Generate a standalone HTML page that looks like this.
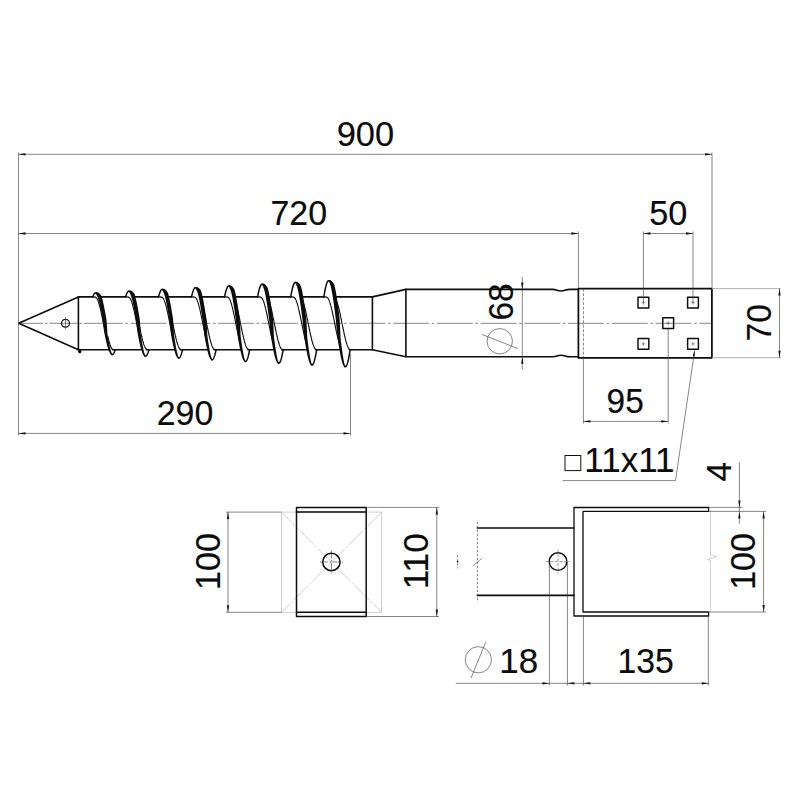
<!DOCTYPE html>
<html lang="en">
<head>
<meta charset="utf-8">
<title>Ground screw technical drawing</title>
<style>
html,body{margin:0;padding:0;background:#fff;}
body{width:800px;height:800px;overflow:hidden;}
svg{display:block;}
svg text{font-family:"Liberation Sans","DejaVu Sans",sans-serif;fill:#0c0c0c;stroke:#0c0c0c;stroke-width:0.16px;}
</style>
</head>
<body>
<svg width="800" height="800" viewBox="0 0 800 800">
<rect x="0" y="0" width="800" height="800" fill="#fff"/>
<path d="M18.75,323.3 H43.1 M45,323.3 H47.5 M49.4,323.3 H77.5 M79.5,323.3 H82 M83.8,323.3 H122.8" stroke="#3c3c3c" stroke-width="0.62" fill="none"/>
<line x1="125.4" y1="323.3" x2="712" y2="323.3" stroke="#3c3c3c" stroke-width="0.62" fill="none" stroke-dasharray="2.6 2.6 35.95 2.6"/>
<path d="M18.7,323.3 L78.4,296.9 M18.7,323.3 L78.4,349.7 M78.4,296.9 L78.4,349.7" stroke="#0d0d0d" stroke-width="1.6" fill="none" stroke-linejoin="round" stroke-linecap="round"/>
<ellipse cx="79.7" cy="351.4" rx="1.7" ry="1.9" fill="#0d0d0d"/>
<circle cx="65.5" cy="323.3" r="3.95" stroke="#111" stroke-width="1.25" fill="none"/>
<line x1="65.5" y1="317.3" x2="65.5" y2="329.3" stroke="#3c3c3c" stroke-width="0.62" fill="none"/>
<path d="M372.4,296.9 L372.4,349.7 M372.4,296.9 L405.9,289.4 M372.4,349.7 L405.9,356.8" stroke="#0d0d0d" stroke-width="1.6" fill="none" stroke-linejoin="round" stroke-linecap="round"/>
<path d="M405.9,289.4 L552.5,289.4 C557,289.4 557,291 561,291 C565,291 565,289.4 570,289.4 L578.4,289.4 M405.9,356.8 L552.5,356.8 C557,356.8 557,355.3 561,355.3 C565,355.3 565,356.8 570,356.8 L578.4,356.8 M405.9,289.4 L405.9,356.8" stroke="#0d0d0d" stroke-width="1.6" fill="none" stroke-linejoin="round" stroke-linecap="round"/>
<rect x="578.4" y="288.6" width="133.5" height="69.2" stroke="#0d0d0d" stroke-width="1.75" fill="none" stroke-linejoin="round" stroke-linecap="round"/>
<line x1="583.4" y1="288.6" x2="583.4" y2="357.8" stroke="#3c3c3c" stroke-width="0.62" fill="none" stroke-dasharray="3 1.5"/>
<rect x="638" y="297.3" width="10.8" height="10.8" stroke="#0d0d0d" stroke-width="1.45" fill="none" stroke-linejoin="round" stroke-linecap="round"/>
<line x1="641.4" y1="302.7" x2="645.4" y2="302.7" stroke="#3c3c3c" stroke-width="0.5" fill="none"/>
<line x1="643.4" y1="300.7" x2="643.4" y2="304.7" stroke="#3c3c3c" stroke-width="0.5" fill="none"/>
<rect x="687.6" y="297.3" width="10.8" height="10.8" stroke="#0d0d0d" stroke-width="1.45" fill="none" stroke-linejoin="round" stroke-linecap="round"/>
<line x1="691" y1="302.7" x2="695" y2="302.7" stroke="#3c3c3c" stroke-width="0.5" fill="none"/>
<line x1="693" y1="300.7" x2="693" y2="304.7" stroke="#3c3c3c" stroke-width="0.5" fill="none"/>
<rect x="662.8" y="317.8" width="10.8" height="10.8" stroke="#0d0d0d" stroke-width="1.45" fill="none" stroke-linejoin="round" stroke-linecap="round"/>
<line x1="666.2" y1="323.2" x2="670.2" y2="323.2" stroke="#3c3c3c" stroke-width="0.5" fill="none"/>
<line x1="668.2" y1="321.2" x2="668.2" y2="325.2" stroke="#3c3c3c" stroke-width="0.5" fill="none"/>
<rect x="638" y="338.5" width="10.8" height="10.8" stroke="#0d0d0d" stroke-width="1.45" fill="none" stroke-linejoin="round" stroke-linecap="round"/>
<line x1="641.4" y1="343.9" x2="645.4" y2="343.9" stroke="#3c3c3c" stroke-width="0.5" fill="none"/>
<line x1="643.4" y1="341.9" x2="643.4" y2="345.9" stroke="#3c3c3c" stroke-width="0.5" fill="none"/>
<rect x="687.6" y="338.5" width="10.8" height="10.8" stroke="#0d0d0d" stroke-width="1.45" fill="none" stroke-linejoin="round" stroke-linecap="round"/>
<line x1="691" y1="343.9" x2="695" y2="343.9" stroke="#3c3c3c" stroke-width="0.5" fill="none"/>
<line x1="693" y1="341.9" x2="693" y2="345.9" stroke="#3c3c3c" stroke-width="0.5" fill="none"/>
<path d="M78.4,296.9 L92.55,296.9 M100.25,296.9 L125.38,296.9 M134.02,296.9 L158.31,296.9 M167.69,296.9 L191.3,296.9 M201.3,296.9 L224.33,296.9 M234.87,296.9 L257.4,296.9 M268.4,296.9 L290.5,296.9 M301.9,296.9 L323.61,296.9 M335.39,296.9 L372.4,296.9 M78.4,349.7 L108.55,349.7 M112.41,349.7 L141.44,349.7 M146.26,349.7 L174.4,349.7 M180.11,349.7 L207.41,349.7 M213.96,349.7 L240.46,349.7 M247.81,349.7 L273.54,349.7 M281.66,349.7 L306.65,349.7 M315.51,349.7 L339.78,349.7 M349.37,349.7 L372.4,349.7 " stroke="#0d0d0d" stroke-width="1.6" fill="none" stroke-linejoin="round" stroke-linecap="round"/>
<path d="M92.75,297.03 L92.97,296.43 L93.18,295.88 L93.4,295.37 L93.61,294.9 L93.83,294.49 L94.04,294.12 L94.26,293.8 L94.47,293.53 L94.69,293.3 L94.9,293.13 L95.12,293 L95.33,292.93 L95.55,292.9 L95.76,292.93" stroke="#0d0d0d" stroke-width="1.5" fill="none" stroke-linejoin="round" stroke-linecap="round"/>
<path d="M111.89,354.52 L112.12,354.57 L112.35,354.56 L112.58,354.49 L112.82,354.36 L113.05,354.17 L113.28,353.92 L113.52,353.61 L113.75,353.24 L113.98,352.81 L114.22,352.32 L114.45,351.78 L114.68,351.19 L114.91,350.54 L115.15,349.83" stroke="#0d0d0d" stroke-width="1.5" fill="none" stroke-linejoin="round" stroke-linecap="round"/>
<path d="M95.47,292.26 L96.07,292.1 L96.74,292.11 L97.41,292.26 L98.06,292.53 L98.7,292.9 L99.32,293.35 L99.92,293.89 L100.49,294.51 L100.98,295.23 L101.39,296.04 L101.68,296.92 L101.98,297.87 L102.27,298.87 L102.56,299.94 L102.84,301.07 L103.13,302.25 L103.41,303.48 L103.69,304.77 L103.97,306.1 L104.25,307.48 L104.53,308.89 L104.81,310.35 L105.09,311.84 L105.37,313.36 L105.65,314.91 L105.93,316.48 L106.21,318.06 L106.48,319.66 L106.62,321.28 L106.74,322.91 L106.86,324.54 L106.99,326.17 L107.1,327.79 L107.19,329.39 L107.28,330.99 L107.38,332.56 L107.52,334.1 L107.76,335.6 L108.01,337.07 L108.25,338.5 L108.5,339.89 L108.75,341.23 L108.99,342.53 L109.24,343.76 L109.48,344.95 L109.72,346.07 L109.96,347.13 L110.18,348.12 L110.4,349.05 L110.62,349.9 L110.84,350.68 L111.05,351.38 L111.27,352 L111.47,352.53 L111.67,352.98 L111.86,353.34 L112.03,353.61 L112.18,353.8 L112.3,353.87 L112.39,353.89 L112.31,355.25 L111.84,355.15 L111.42,354.94 L111.02,354.65 L110.65,354.29 L110.31,353.85 L109.98,353.34 L109.65,352.75 L109.33,352.09 L109.01,351.35 L108.7,350.55 L108.38,349.67 L108.07,348.73 L107.76,347.72 L107.45,346.64 L107.14,345.51 L106.83,344.31 L106.52,343.07 L106.21,341.77 L105.9,340.42 L105.59,339.03 L105.28,337.59 L104.97,336.13 L104.67,334.62 L104.4,333.09 L104.17,331.54 L103.93,329.97 L103.69,328.38 L103.48,326.77 L103.27,325.16 L103.06,323.55 L102.86,321.93 L102.64,320.33 L102.36,318.73 L102.09,317.15 L101.81,315.59 L101.53,314.06 L101.26,312.55 L100.98,311.08 L100.7,309.64 L100.43,308.24 L100.15,306.89 L99.88,305.59 L99.6,304.33 L99.33,303.14 L99.05,302 L98.78,300.93 L98.51,299.92 L98.24,298.98 L97.97,298.12 L97.71,297.33 L97.4,296.63 L97.06,296.01 L96.79,295.44 L96.56,294.95 L96.34,294.54 L96.14,294.22 L95.96,293.97 L95.81,293.8 L95.68,293.66 L95.53,293.55Z" fill="#0d0d0d" stroke="none"/>
<path d="M93.09,296.9 Q95.69,296.9 96.69,298.08 L96.77,298.19 L96.84,298.31 L96.92,298.43 L96.99,298.56 L97.07,298.7 L97.14,298.83 L97.22,298.98 L97.29,299.13 L97.37,299.28 L97.44,299.44 L97.52,299.6 L97.59,299.77 L97.67,299.94 L97.74,300.12 L97.82,300.3 L97.89,300.49 L97.97,300.68 L98.05,300.87 L98.12,301.07 L98.2,301.28 L98.27,301.49 L98.35,301.7 L98.42,301.92 L98.5,302.14 L98.57,302.37 L98.65,302.6 L98.72,302.83 L98.8,303.07 L98.87,303.31 L98.95,303.56 L99.02,303.81 L99.1,304.07 L99.17,304.33 L99.25,304.59 L99.33,304.86 L99.4,305.13 L99.48,305.4 L99.55,305.68 L99.63,305.96 L99.7,306.24 L99.78,306.53 L99.85,306.82 L99.93,307.12 L100,307.41 L100.08,307.72 L100.15,308.02 L100.23,308.33 L100.3,308.64 L100.38,308.95 L100.45,309.27 L100.53,309.59 L100.61,309.91 L100.68,310.23 L100.76,310.56 L100.83,310.89 L100.91,311.22 L100.98,311.56 L101.06,311.89 L101.13,312.23 L101.21,312.58 L101.28,312.92 L101.36,313.27 L101.43,313.61 L101.51,313.96 L101.58,314.32 L101.66,314.67 L101.74,315.02 L101.81,315.38 L101.89,315.74 L101.96,316.1 L102.04,316.46 L102.11,316.82 L102.19,317.19 L102.26,317.55 L102.34,317.92 L102.41,318.29 L102.49,318.66 L102.56,319.03 L102.64,319.4 L102.71,319.77 L102.79,320.14 L102.86,320.51 L102.94,320.89 L103.02,321.26 L103.09,321.63 L103.17,322.01 L103.24,322.38 L103.32,322.76 L103.39,323.13 L103.47,323.51 L103.54,323.88 L103.62,324.26 L103.69,324.63 L103.77,325.01 L103.84,325.38 L103.92,325.76 L103.99,326.13 L104.07,326.5 L104.14,326.87 L104.22,327.25 L104.3,327.62 L104.37,327.99 L104.45,328.35 L104.52,328.72 L104.6,329.09 L104.67,329.45 L104.75,329.82 L104.82,330.18 L104.9,330.54 L104.97,330.9 L105.05,331.26 L105.12,331.62 L105.2,331.97 L105.27,332.33 L105.35,332.68 L105.42,333.03 L105.5,333.37 L105.58,333.72 L105.65,334.06 L105.73,334.41 L105.8,334.74 L105.88,335.08 L105.95,335.42 L106.03,335.75 L106.1,336.08 L106.18,336.4 L106.25,336.73 L106.33,337.05 L106.4,337.37 L106.48,337.68 L106.55,338 L106.63,338.31 L106.7,338.61 L106.78,338.92 L106.86,339.22 L106.93,339.52" stroke="#0d0d0d" stroke-width="1.15" fill="none" stroke-linejoin="round" stroke-linecap="round"/>
<path d="M107.9,336.69 L107.98,337.01 L108.06,337.33 L108.13,337.65 L108.21,337.96 L108.28,338.27 L108.36,338.58 L108.43,338.88 L108.51,339.19 L108.58,339.48 L108.66,339.78 L108.73,340.07 L108.81,340.36 L108.88,340.64 L108.96,340.92 L109.03,341.2 L109.11,341.47 L109.18,341.74 L109.26,342.01 L109.34,342.27 L109.41,342.53 L109.49,342.79 L109.56,343.04 L109.64,343.29 L109.71,343.53 L109.79,343.77 L109.86,344 L109.94,344.23 L110.01,344.46 L110.09,344.68 L110.16,344.9 L110.24,345.11 L110.31,345.32 L110.39,345.53 L110.46,345.73 L110.54,345.92 L110.62,346.11 L110.69,346.3 L110.77,346.48 L110.84,346.66 L110.92,346.83 L110.99,347 L111.07,347.16 L111.14,347.32 L111.22,347.47 L111.29,347.62 L111.37,347.77 L111.44,347.9 L111.52,348.04 L111.59,348.17 L111.67,348.29 L111.75,348.41 L111.82,348.52 Q112.82,349.7 115.42,349.7" stroke="#0d0d0d" stroke-width="1.15" fill="none" stroke-linejoin="round" stroke-linecap="round"/>
<path d="M125.58,297.04 L125.83,296.2 L126.08,295.42 L126.33,294.7 L126.58,294.05 L126.83,293.46 L127.08,292.93 L127.32,292.47 L127.57,292.08 L127.82,291.75 L128.07,291.5 L128.32,291.31 L128.57,291.2 L128.82,291.16 L129.06,291.18" stroke="#0d0d0d" stroke-width="1.5" fill="none" stroke-linejoin="round" stroke-linecap="round"/>
<path d="M145.19,356.26 L145.45,356.32 L145.71,356.29 L145.97,356.18 L146.24,356 L146.5,355.73 L146.76,355.38 L147.02,354.95 L147.29,354.44 L147.55,353.86 L147.81,353.2 L148.08,352.47 L148.34,351.66 L148.6,350.79 L148.86,349.84" stroke="#0d0d0d" stroke-width="1.5" fill="none" stroke-linejoin="round" stroke-linecap="round"/>
<path d="M128.77,290.51 L129.38,290.36 L130.06,290.38 L130.74,290.56 L131.39,290.86 L132.02,291.25 L132.64,291.73 L133.24,292.3 L133.81,292.96 L134.3,293.72 L134.7,294.56 L135,295.49 L135.29,296.49 L135.58,297.55 L135.86,298.67 L136.15,299.86 L136.43,301.11 L136.71,302.41 L137,303.76 L137.28,305.17 L137.56,306.63 L137.84,308.12 L138.12,309.66 L138.4,311.24 L138.67,312.84 L138.95,314.48 L139.23,316.13 L139.51,317.81 L139.79,319.5 L139.92,321.21 L140.05,322.93 L140.17,324.65 L140.29,326.37 L140.41,328.08 L140.5,329.78 L140.59,331.46 L140.68,333.12 L140.82,334.74 L141.06,336.33 L141.31,337.88 L141.56,339.39 L141.8,340.86 L142.05,342.28 L142.29,343.64 L142.54,344.95 L142.78,346.2 L143.03,347.38 L143.26,348.5 L143.49,349.55 L143.71,350.53 L143.93,351.43 L144.14,352.26 L144.36,352.99 L144.57,353.65 L144.78,354.21 L144.98,354.69 L145.17,355.07 L145.35,355.35 L145.49,355.55 L145.61,355.62 L145.69,355.64 L145.61,357 L145.13,356.89 L144.7,356.67 L144.31,356.37 L143.94,355.98 L143.6,355.52 L143.27,354.98 L142.94,354.37 L142.62,353.67 L142.31,352.9 L141.99,352.05 L141.68,351.12 L141.37,350.13 L141.06,349.06 L140.74,347.93 L140.43,346.73 L140.12,345.47 L139.82,344.15 L139.51,342.78 L139.2,341.36 L138.89,339.89 L138.58,338.38 L138.27,336.82 L137.96,335.24 L137.7,333.62 L137.46,331.98 L137.23,330.32 L136.99,328.64 L136.78,326.94 L136.57,325.24 L136.36,323.53 L136.15,321.83 L135.94,320.13 L135.66,318.45 L135.38,316.78 L135.11,315.13 L134.83,313.5 L134.55,311.91 L134.28,310.35 L134,308.83 L133.73,307.35 L133.45,305.92 L133.17,304.54 L132.9,303.22 L132.62,301.95 L132.35,300.75 L132.08,299.61 L131.81,298.54 L131.53,297.55 L131.27,296.63 L131,295.8 L130.69,295.04 L130.35,294.38 L130.08,293.78 L129.85,293.26 L129.63,292.83 L129.42,292.48 L129.24,292.23 L129.09,292.05 L128.97,291.92 L128.83,291.81Z" fill="#0d0d0d" stroke="none"/>
<path d="M126.39,296.9 Q128.99,296.9 129.99,298.08 L130.07,298.19 L130.14,298.31 L130.22,298.43 L130.29,298.56 L130.37,298.7 L130.44,298.83 L130.52,298.98 L130.59,299.13 L130.67,299.28 L130.74,299.44 L130.82,299.6 L130.89,299.77 L130.97,299.94 L131.04,300.12 L131.12,300.3 L131.19,300.49 L131.27,300.68 L131.35,300.87 L131.42,301.07 L131.5,301.28 L131.57,301.49 L131.65,301.7 L131.72,301.92 L131.8,302.14 L131.87,302.37 L131.95,302.6 L132.02,302.83 L132.1,303.07 L132.17,303.31 L132.25,303.56 L132.32,303.81 L132.4,304.07 L132.47,304.33 L132.55,304.59 L132.63,304.86 L132.7,305.13 L132.78,305.4 L132.85,305.68 L132.93,305.96 L133,306.24 L133.08,306.53 L133.15,306.82 L133.23,307.12 L133.3,307.41 L133.38,307.72 L133.45,308.02 L133.53,308.33 L133.6,308.64 L133.68,308.95 L133.75,309.27 L133.83,309.59 L133.91,309.91 L133.98,310.23 L134.06,310.56 L134.13,310.89 L134.21,311.22 L134.28,311.56 L134.36,311.89 L134.43,312.23 L134.51,312.58 L134.58,312.92 L134.66,313.27 L134.73,313.61 L134.81,313.96 L134.88,314.32 L134.96,314.67 L135.04,315.02 L135.11,315.38 L135.19,315.74 L135.26,316.1 L135.34,316.46 L135.41,316.82 L135.49,317.19 L135.56,317.55 L135.64,317.92 L135.71,318.29 L135.79,318.66 L135.86,319.03 L135.94,319.4 L136.01,319.77 L136.09,320.14 L136.16,320.51 L136.24,320.89 L136.32,321.26 L136.39,321.63 L136.47,322.01 L136.54,322.38 L136.62,322.76 L136.69,323.13 L136.77,323.51 L136.84,323.88 L136.92,324.26 L136.99,324.63 L137.07,325.01 L137.14,325.38 L137.22,325.76 L137.29,326.13 L137.37,326.5 L137.44,326.87 L137.52,327.25 L137.6,327.62 L137.67,327.99 L137.75,328.35 L137.82,328.72 L137.9,329.09 L137.97,329.45 L138.05,329.82 L138.12,330.18 L138.2,330.54 L138.27,330.9 L138.35,331.26 L138.42,331.62 L138.5,331.97 L138.57,332.33 L138.65,332.68 L138.72,333.03 L138.8,333.37 L138.88,333.72 L138.95,334.06 L139.03,334.41 L139.1,334.74 L139.18,335.08 L139.25,335.42 L139.33,335.75 L139.4,336.08 L139.48,336.4 L139.55,336.73" stroke="#0d0d0d" stroke-width="1.15" fill="none" stroke-linejoin="round" stroke-linecap="round"/>
<path d="M138.37,320.47 L138.44,320.84 L138.52,321.22 L138.59,321.59 L138.67,321.97 L138.74,322.34 L138.82,322.72 L138.89,323.09 L138.97,323.47 L139.04,323.84 L139.12,324.22 L139.2,324.59 L139.27,324.97 L139.35,325.34 L139.42,325.71 L139.5,326.09 L139.57,326.46 L139.65,326.83 L139.72,327.2 L139.8,327.57 L139.87,327.94 L139.95,328.31 L140.02,328.68 L140.1,329.05 L140.17,329.41 L140.25,329.78 L140.32,330.14 L140.4,330.5 L140.48,330.86 L140.55,331.22 L140.63,331.58 L140.7,331.93 L140.78,332.28 L140.85,332.64 L140.93,332.99 L141,333.33 L141.08,333.68 L141.15,334.02 L141.23,334.37 L141.3,334.71 L141.38,335.04 L141.45,335.38 L141.53,335.71 L141.6,336.04 L141.68,336.37 L141.76,336.69 L141.83,337.01 L141.91,337.33 L141.98,337.65 L142.06,337.96 L142.13,338.27 L142.21,338.58 L142.28,338.88 L142.36,339.19 L142.43,339.48 L142.51,339.78 L142.58,340.07 L142.66,340.36 L142.73,340.64 L142.81,340.92 L142.88,341.2 L142.96,341.47 L143.04,341.74 L143.11,342.01 L143.19,342.27 L143.26,342.53 L143.34,342.79 L143.41,343.04 L143.49,343.29 L143.56,343.53 L143.64,343.77 L143.71,344 L143.79,344.23 L143.86,344.46 L143.94,344.68 L144.01,344.9 L144.09,345.11 L144.17,345.32 L144.24,345.53 L144.32,345.73 L144.39,345.92 L144.47,346.11 L144.54,346.3 L144.62,346.48 L144.69,346.66 L144.77,346.83 L144.84,347 L144.92,347.16 L144.99,347.32 L145.07,347.47 L145.14,347.62 L145.22,347.77 L145.29,347.9 L145.37,348.04 L145.45,348.17 L145.52,348.29 L145.6,348.41 L145.67,348.52 Q146.67,349.7 149.27,349.7" stroke="#0d0d0d" stroke-width="1.15" fill="none" stroke-linejoin="round" stroke-linecap="round"/>
<path d="M158.51,297.05 L158.78,295.97 L159.06,294.97 L159.33,294.05 L159.61,293.2 L159.89,292.43 L160.16,291.75 L160.44,291.15 L160.71,290.63 L160.99,290.21 L161.26,289.87 L161.54,289.63 L161.81,289.47 L162.09,289.41 L162.36,289.44" stroke="#0d0d0d" stroke-width="1.5" fill="none" stroke-linejoin="round" stroke-linecap="round"/>
<path d="M178.49,358.01 L178.77,358.07 L179.06,358.02 L179.35,357.88 L179.63,357.63 L179.92,357.28 L180.21,356.83 L180.49,356.28 L180.78,355.64 L181.07,354.9 L181.36,354.07 L181.64,353.14 L181.93,352.13 L182.22,351.03 L182.5,349.85" stroke="#0d0d0d" stroke-width="1.5" fill="none" stroke-linejoin="round" stroke-linecap="round"/>
<path d="M162.07,288.76 L162.69,288.61 L163.38,288.66 L164.06,288.86 L164.72,289.18 L165.35,289.6 L165.96,290.11 L166.56,290.71 L167.12,291.4 L167.61,292.2 L168.01,293.09 L168.31,294.06 L168.6,295.11 L168.88,296.22 L169.17,297.4 L169.45,298.65 L169.74,299.96 L170.02,301.33 L170.3,302.76 L170.58,304.24 L170.86,305.77 L171.14,307.35 L171.42,308.97 L171.7,310.63 L171.98,312.32 L172.26,314.05 L172.53,315.79 L172.81,317.56 L173.09,319.34 L173.23,321.14 L173.35,322.95 L173.47,324.76 L173.59,326.57 L173.71,328.37 L173.8,330.15 L173.89,331.92 L173.98,333.67 L174.12,335.38 L174.37,337.05 L174.61,338.69 L174.86,340.28 L175.11,341.82 L175.35,343.32 L175.6,344.75 L175.84,346.13 L176.09,347.45 L176.33,348.7 L176.57,349.88 L176.79,350.98 L177.01,352.01 L177.23,352.96 L177.45,353.83 L177.67,354.61 L177.88,355.3 L178.09,355.89 L178.29,356.39 L178.48,356.79 L178.66,357.09 L178.8,357.29 L178.92,357.37 L178.99,357.39 L178.91,358.74 L178.42,358.64 L177.99,358.4 L177.59,358.08 L177.23,357.68 L176.89,357.2 L176.56,356.63 L176.24,355.98 L175.92,355.25 L175.6,354.44 L175.29,353.55 L174.97,352.58 L174.66,351.53 L174.35,350.41 L174.04,349.22 L173.73,347.96 L173.42,346.63 L173.11,345.24 L172.8,343.8 L172.5,342.3 L172.19,340.75 L171.88,339.16 L171.57,337.52 L171.26,335.85 L171,334.15 L170.76,332.42 L170.52,330.67 L170.29,328.9 L170.07,327.11 L169.87,325.32 L169.66,323.52 L169.45,321.73 L169.24,319.94 L168.96,318.16 L168.68,316.4 L168.41,314.66 L168.13,312.95 L167.85,311.27 L167.58,309.63 L167.3,308.02 L167.02,306.47 L166.75,304.96 L166.47,303.5 L166.2,302.1 L165.92,300.77 L165.65,299.49 L165.37,298.29 L165.1,297.17 L164.83,296.11 L164.56,295.15 L164.29,294.26 L163.98,293.46 L163.64,292.76 L163.37,292.13 L163.13,291.57 L162.91,291.11 L162.7,290.75 L162.52,290.48 L162.37,290.3 L162.26,290.17 L162.13,290.06Z" fill="#0d0d0d" stroke="none"/>
<path d="M159.51,296.9 Q162.11,296.9 163.11,298.08 L163.19,298.19 L163.27,298.31 L163.34,298.43 L163.42,298.56 L163.49,298.7 L163.57,298.83 L163.64,298.98 L163.72,299.13 L163.79,299.28 L163.87,299.44 L163.94,299.6 L164.02,299.77 L164.09,299.94 L164.17,300.12 L164.24,300.3 L164.32,300.49 L164.39,300.68 L164.47,300.87 L164.55,301.07 L164.62,301.28 L164.7,301.49 L164.77,301.7 L164.85,301.92 L164.92,302.14 L165,302.37 L165.07,302.6 L165.15,302.83 L165.22,303.07 L165.3,303.31 L165.37,303.56 L165.45,303.81 L165.52,304.07 L165.6,304.33 L165.67,304.59 L165.75,304.86 L165.83,305.13 L165.9,305.4 L165.98,305.68 L166.05,305.96 L166.13,306.24 L166.2,306.53 L166.28,306.82 L166.35,307.12 L166.43,307.41 L166.5,307.72 L166.58,308.02 L166.65,308.33 L166.73,308.64 L166.8,308.95 L166.88,309.27 L166.95,309.59 L167.03,309.91 L167.11,310.23 L167.18,310.56 L167.26,310.89 L167.33,311.22 L167.41,311.56 L167.48,311.89 L167.56,312.23 L167.63,312.58 L167.71,312.92 L167.78,313.27 L167.86,313.61 L167.93,313.96 L168.01,314.32 L168.08,314.67 L168.16,315.02 L168.24,315.38 L168.31,315.74 L168.39,316.1 L168.46,316.46 L168.54,316.82 L168.61,317.19 L168.69,317.55 L168.76,317.92 L168.84,318.29 L168.91,318.66 L168.99,319.03 L169.06,319.4 L169.14,319.77 L169.21,320.14 L169.29,320.51 L169.36,320.89 L169.44,321.26 L169.52,321.63 L169.59,322.01 L169.67,322.38 L169.74,322.76 L169.82,323.13 L169.89,323.51 L169.97,323.88 L170.04,324.26 L170.12,324.63 L170.19,325.01 L170.27,325.38 L170.34,325.76 L170.42,326.13 L170.49,326.5 L170.57,326.87 L170.64,327.25 L170.72,327.62 L170.8,327.99 L170.87,328.35 L170.95,328.72 L171.02,329.09 L171.1,329.45 L171.17,329.82 L171.25,330.18 L171.32,330.54 L171.4,330.9 L171.47,331.26 L171.55,331.62 L171.62,331.97 L171.7,332.33 L171.77,332.68 L171.85,333.03 L171.92,333.37 L172,333.72 L172.08,334.06 L172.15,334.41 L172.23,334.74 L172.3,335.08 L172.38,335.42 L172.45,335.75 L172.53,336.08 L172.6,336.4 L172.68,336.73 L172.75,337.05 L172.83,337.37 L172.9,337.68" stroke="#0d0d0d" stroke-width="1.15" fill="none" stroke-linejoin="round" stroke-linecap="round"/>
<path d="M170.11,310.52 L170.18,310.85 L170.26,311.18 L170.34,311.52 L170.41,311.86 L170.49,312.19 L170.56,312.54 L170.64,312.88 L170.71,313.23 L170.79,313.57 L170.86,313.92 L170.94,314.27 L171.01,314.63 L171.09,314.98 L171.16,315.34 L171.24,315.7 L171.31,316.06 L171.39,316.42 L171.46,316.78 L171.54,317.15 L171.62,317.51 L171.69,317.88 L171.77,318.25 L171.84,318.61 L171.92,318.98 L171.99,319.35 L172.07,319.73 L172.14,320.1 L172.22,320.47 L172.29,320.84 L172.37,321.22 L172.44,321.59 L172.52,321.97 L172.59,322.34 L172.67,322.72 L172.74,323.09 L172.82,323.47 L172.9,323.84 L172.97,324.22 L173.05,324.59 L173.12,324.97 L173.2,325.34 L173.27,325.71 L173.35,326.09 L173.42,326.46 L173.5,326.83 L173.57,327.2 L173.65,327.57 L173.72,327.94 L173.8,328.31 L173.87,328.68 L173.95,329.05 L174.02,329.41 L174.1,329.78 L174.18,330.14 L174.25,330.5 L174.33,330.86 L174.4,331.22 L174.48,331.58 L174.55,331.93 L174.63,332.28 L174.7,332.64 L174.78,332.99 L174.85,333.33 L174.93,333.68 L175,334.02 L175.08,334.37 L175.15,334.71 L175.23,335.04 L175.3,335.38 L175.38,335.71 L175.46,336.04 L175.53,336.37 L175.61,336.69 L175.68,337.01 L175.76,337.33 L175.83,337.65 L175.91,337.96 L175.98,338.27 L176.06,338.58 L176.13,338.88 L176.21,339.19 L176.28,339.48 L176.36,339.78 L176.43,340.07 L176.51,340.36 L176.59,340.64 L176.66,340.92 L176.74,341.2 L176.81,341.47 L176.89,341.74 L176.96,342.01 L177.04,342.27 L177.11,342.53 L177.19,342.79 L177.26,343.04 L177.34,343.29 L177.41,343.53 L177.49,343.77 L177.56,344 L177.64,344.23 L177.71,344.46 L177.79,344.68 L177.87,344.9 L177.94,345.11 L178.02,345.32 L178.09,345.53 L178.17,345.73 L178.24,345.92 L178.32,346.11 L178.39,346.3 L178.47,346.48 L178.54,346.66 L178.62,346.83 L178.69,347 L178.77,347.16 L178.84,347.32 L178.92,347.47 L178.99,347.62 L179.07,347.77 L179.15,347.9 L179.22,348.04 L179.3,348.17 L179.37,348.29 L179.45,348.41 L179.52,348.52 Q180.52,349.7 183.12,349.7" stroke="#0d0d0d" stroke-width="1.15" fill="none" stroke-linejoin="round" stroke-linecap="round"/>
<path d="M191.5,297.05 L191.79,295.74 L192.09,294.52 L192.39,293.39 L192.69,292.35 L192.98,291.41 L193.28,290.57 L193.58,289.83 L193.88,289.2 L194.18,288.67 L194.47,288.25 L194.77,287.94 L195.07,287.75 L195.37,287.66 L195.66,287.69" stroke="#0d0d0d" stroke-width="1.5" fill="none" stroke-linejoin="round" stroke-linecap="round"/>
<path d="M211.79,359.75 L212.09,359.81 L212.4,359.75 L212.71,359.57 L213.02,359.26 L213.32,358.83 L213.63,358.28 L213.94,357.61 L214.25,356.83 L214.55,355.93 L214.86,354.92 L215.17,353.81 L215.48,352.59 L215.78,351.27 L216.09,349.85" stroke="#0d0d0d" stroke-width="1.5" fill="none" stroke-linejoin="round" stroke-linecap="round"/>
<path d="M195.37,287.01 L196.01,286.87 L196.71,286.93 L197.39,287.15 L198.04,287.5 L198.67,287.94 L199.28,288.48 L199.88,289.11 L200.44,289.84 L200.92,290.68 L201.32,291.6 L201.61,292.63 L201.9,293.72 L202.19,294.89 L202.48,296.13 L202.76,297.44 L203.04,298.82 L203.32,300.26 L203.6,301.76 L203.89,303.31 L204.16,304.92 L204.44,306.58 L204.72,308.28 L205,310.02 L205.28,311.8 L205.56,313.61 L205.84,315.45 L206.12,317.3 L206.39,319.17 L206.53,321.07 L206.65,322.97 L206.77,324.87 L206.89,326.77 L207.01,328.65 L207.1,330.53 L207.19,332.39 L207.28,334.22 L207.42,336.02 L207.67,337.78 L207.92,339.49 L208.16,341.17 L208.41,342.79 L208.65,344.36 L208.9,345.87 L209.14,347.32 L209.39,348.7 L209.63,350.01 L209.87,351.25 L210.09,352.41 L210.31,353.49 L210.54,354.49 L210.75,355.4 L210.97,356.22 L211.19,356.94 L211.4,357.57 L211.6,358.1 L211.79,358.52 L211.97,358.83 L212.11,359.04 L212.23,359.12 L212.29,359.13 L212.21,360.49 L211.71,360.38 L211.28,360.13 L210.88,359.79 L210.52,359.37 L210.18,358.87 L209.85,358.28 L209.53,357.6 L209.21,356.84 L208.9,355.99 L208.58,355.05 L208.27,354.03 L207.96,352.93 L207.65,351.76 L207.34,350.51 L207.03,349.18 L206.72,347.79 L206.41,346.33 L206.1,344.82 L205.79,343.24 L205.48,341.62 L205.18,339.94 L204.87,338.23 L204.56,336.47 L204.3,334.68 L204.06,332.86 L203.82,331.02 L203.58,329.16 L203.37,327.29 L203.16,325.4 L202.96,323.51 L202.75,321.62 L202.54,319.74 L202.26,317.88 L201.98,316.03 L201.7,314.2 L201.43,312.4 L201.15,310.63 L200.87,308.91 L200.6,307.22 L200.32,305.58 L200.04,303.99 L199.77,302.46 L199.49,300.99 L199.22,299.58 L198.94,298.24 L198.67,296.98 L198.4,295.79 L198.12,294.68 L197.85,293.66 L197.59,292.73 L197.28,291.88 L196.93,291.14 L196.65,290.47 L196.42,289.89 L196.2,289.4 L195.99,289.02 L195.8,288.74 L195.65,288.55 L195.54,288.42 L195.43,288.31Z" fill="#0d0d0d" stroke="none"/>
<path d="M192.48,296.9 Q195.08,296.9 196.08,298.08 L196.16,298.19 L196.23,298.31 L196.31,298.43 L196.38,298.56 L196.46,298.7 L196.53,298.83 L196.61,298.98 L196.68,299.13 L196.76,299.28 L196.84,299.44 L196.91,299.6 L196.99,299.77 L197.06,299.94 L197.14,300.12 L197.21,300.3 L197.29,300.49 L197.36,300.68 L197.44,300.87 L197.51,301.07 L197.59,301.28 L197.66,301.49 L197.74,301.7 L197.81,301.92 L197.89,302.14 L197.96,302.37 L198.04,302.6 L198.12,302.83 L198.19,303.07 L198.27,303.31 L198.34,303.56 L198.42,303.81 L198.49,304.07 L198.57,304.33 L198.64,304.59 L198.72,304.86 L198.79,305.13 L198.87,305.4 L198.94,305.68 L199.02,305.96 L199.09,306.24 L199.17,306.53 L199.25,306.82 L199.32,307.12 L199.4,307.41 L199.47,307.72 L199.55,308.02 L199.62,308.33 L199.7,308.64 L199.77,308.95 L199.85,309.27 L199.92,309.59 L200,309.91 L200.07,310.23 L200.15,310.56 L200.22,310.89 L200.3,311.22 L200.37,311.56 L200.45,311.89 L200.53,312.23 L200.6,312.58 L200.68,312.92 L200.75,313.27 L200.83,313.61 L200.9,313.96 L200.98,314.32 L201.05,314.67 L201.13,315.02 L201.2,315.38 L201.28,315.74 L201.35,316.1 L201.43,316.46 L201.5,316.82 L201.58,317.19 L201.65,317.55 L201.73,317.92 L201.81,318.29 L201.88,318.66 L201.96,319.03 L202.03,319.4 L202.11,319.77 L202.18,320.14 L202.26,320.51 L202.33,320.89 L202.41,321.26 L202.48,321.63 L202.56,322.01 L202.63,322.38 L202.71,322.76 L202.78,323.13 L202.86,323.51 L202.93,323.88 L203.01,324.26 L203.09,324.63 L203.16,325.01 L203.24,325.38 L203.31,325.76 L203.39,326.13 L203.46,326.5 L203.54,326.87 L203.61,327.25 L203.69,327.62 L203.76,327.99 L203.84,328.35 L203.91,328.72 L203.99,329.09 L204.06,329.45 L204.14,329.82 L204.21,330.18 L204.29,330.54 L204.37,330.9 L204.44,331.26 L204.52,331.62 L204.59,331.97 L204.67,332.33 L204.74,332.68 L204.82,333.03 L204.89,333.37 L204.97,333.72 L205.04,334.06 L205.12,334.41 L205.19,334.74 L205.27,335.08 L205.34,335.42 L205.42,335.75 L205.49,336.08 L205.57,336.4 L205.65,336.73 L205.72,337.05 L205.8,337.37 L205.87,337.68 L205.95,338 L206.02,338.31 L206.1,338.61 L206.17,338.92 L206.25,339.22 L206.32,339.52 L206.4,339.81 L206.47,340.1" stroke="#0d0d0d" stroke-width="1.15" fill="none" stroke-linejoin="round" stroke-linecap="round"/>
<path d="M202.68,305.37 L202.76,305.64 L202.83,305.93 L202.91,306.21 L202.98,306.5 L203.06,306.79 L203.13,307.08 L203.21,307.38 L203.28,307.68 L203.36,307.99 L203.43,308.29 L203.51,308.6 L203.58,308.92 L203.66,309.23 L203.73,309.55 L203.81,309.87 L203.88,310.2 L203.96,310.52 L204.04,310.85 L204.11,311.18 L204.19,311.52 L204.26,311.86 L204.34,312.19 L204.41,312.54 L204.49,312.88 L204.56,313.23 L204.64,313.57 L204.71,313.92 L204.79,314.27 L204.86,314.63 L204.94,314.98 L205.01,315.34 L205.09,315.7 L205.16,316.06 L205.24,316.42 L205.32,316.78 L205.39,317.15 L205.47,317.51 L205.54,317.88 L205.62,318.25 L205.69,318.61 L205.77,318.98 L205.84,319.35 L205.92,319.73 L205.99,320.1 L206.07,320.47 L206.14,320.84 L206.22,321.22 L206.29,321.59 L206.37,321.97 L206.44,322.34 L206.52,322.72 L206.6,323.09 L206.67,323.47 L206.75,323.84 L206.82,324.22 L206.9,324.59 L206.97,324.97 L207.05,325.34 L207.12,325.71 L207.2,326.09 L207.27,326.46 L207.35,326.83 L207.42,327.2 L207.5,327.57 L207.57,327.94 L207.65,328.31 L207.72,328.68 L207.8,329.05 L207.88,329.41 L207.95,329.78 L208.03,330.14 L208.1,330.5 L208.18,330.86 L208.25,331.22 L208.33,331.58 L208.4,331.93 L208.48,332.28 L208.55,332.64 L208.63,332.99 L208.7,333.33 L208.78,333.68 L208.85,334.02 L208.93,334.37 L209.01,334.71 L209.08,335.04 L209.16,335.38 L209.23,335.71 L209.31,336.04 L209.38,336.37 L209.46,336.69 L209.53,337.01 L209.61,337.33 L209.68,337.65 L209.76,337.96 L209.83,338.27 L209.91,338.58 L209.98,338.88 L210.06,339.19 L210.13,339.48 L210.21,339.78 L210.29,340.07 L210.36,340.36 L210.44,340.64 L210.51,340.92 L210.59,341.2 L210.66,341.47 L210.74,341.74 L210.81,342.01 L210.89,342.27 L210.96,342.53 L211.04,342.79 L211.11,343.04 L211.19,343.29 L211.26,343.53 L211.34,343.77 L211.41,344 L211.49,344.23 L211.57,344.46 L211.64,344.68 L211.72,344.9 L211.79,345.11 L211.87,345.32 L211.94,345.53 L212.02,345.73 L212.09,345.92 L212.17,346.11 L212.24,346.3 L212.32,346.48 L212.39,346.66 L212.47,346.83 L212.54,347 L212.62,347.16 L212.69,347.32 L212.77,347.47 L212.85,347.62 L212.92,347.77 L213,347.9 L213.07,348.04 L213.15,348.17 L213.22,348.29 L213.3,348.41 L213.37,348.52 Q214.37,349.7 216.97,349.7" stroke="#0d0d0d" stroke-width="1.15" fill="none" stroke-linejoin="round" stroke-linecap="round"/>
<path d="M224.53,297.05 L224.85,295.52 L225.16,294.08 L225.48,292.74 L225.8,291.51 L226.11,290.4 L226.43,289.4 L226.75,288.52 L227.06,287.76 L227.38,287.13 L227.7,286.63 L228.01,286.26 L228.33,286.02 L228.65,285.92 L228.96,285.95" stroke="#0d0d0d" stroke-width="1.5" fill="none" stroke-linejoin="round" stroke-linecap="round"/>
<path d="M245.09,361.5 L245.41,361.56 L245.74,361.48 L246.06,361.26 L246.39,360.89 L246.71,360.38 L247.04,359.72 L247.36,358.94 L247.69,358.01 L248.01,356.96 L248.34,355.77 L248.66,354.47 L248.99,353.04 L249.31,351.5 L249.64,349.86" stroke="#0d0d0d" stroke-width="1.5" fill="none" stroke-linejoin="round" stroke-linecap="round"/>
<path d="M228.67,285.26 L229.32,285.13 L230.03,285.21 L230.71,285.45 L231.36,285.81 L231.99,286.28 L232.59,286.85 L233.19,287.51 L233.75,288.28 L234.23,289.15 L234.63,290.12 L234.92,291.19 L235.21,292.33 L235.5,293.56 L235.78,294.85 L236.06,296.23 L236.35,297.67 L236.63,299.18 L236.91,300.75 L237.19,302.38 L237.47,304.07 L237.75,305.8 L238.03,307.59 L238.31,309.42 L238.58,311.28 L238.86,313.18 L239.14,315.1 L239.42,317.04 L239.7,319.01 L239.83,320.99 L239.95,322.98 L240.07,324.98 L240.2,326.96 L240.31,328.94 L240.4,330.91 L240.49,332.85 L240.58,334.77 L240.72,336.66 L240.97,338.5 L241.22,340.3 L241.46,342.05 L241.71,343.75 L241.96,345.4 L242.2,346.98 L242.45,348.5 L242.69,349.95 L242.94,351.32 L243.17,352.62 L243.4,353.84 L243.62,354.97 L243.84,356.02 L244.06,356.97 L244.28,357.83 L244.49,358.59 L244.7,359.25 L244.91,359.8 L245.1,360.24 L245.28,360.57 L245.42,360.79 L245.54,360.87 L245.59,360.88 L245.51,362.24 L245,362.12 L244.57,361.85 L244.17,361.51 L243.81,361.07 L243.48,360.55 L243.15,359.93 L242.83,359.22 L242.51,358.42 L242.19,357.53 L241.88,356.56 L241.57,355.49 L241.26,354.34 L240.95,353.11 L240.64,351.79 L240.33,350.41 L240.02,348.95 L239.71,347.42 L239.4,345.83 L239.09,344.18 L238.78,342.48 L238.47,340.73 L238.17,338.93 L237.86,337.09 L237.6,335.21 L237.36,333.31 L237.12,331.38 L236.88,329.43 L236.67,327.46 L236.46,325.48 L236.26,323.5 L236.05,321.52 L235.83,319.55 L235.56,317.59 L235.28,315.65 L235,313.74 L234.73,311.85 L234.45,310 L234.17,308.18 L233.9,306.41 L233.62,304.69 L233.34,303.03 L233.07,301.42 L232.79,299.88 L232.52,298.4 L232.24,296.99 L231.97,295.67 L231.69,294.42 L231.42,293.25 L231.15,292.18 L230.88,291.19 L230.57,290.31 L230.22,289.52 L229.95,288.82 L229.71,288.2 L229.48,287.69 L229.27,287.29 L229.08,286.99 L228.94,286.8 L228.83,286.67 L228.73,286.56Z" fill="#0d0d0d" stroke="none"/>
<path d="M225.45,296.9 Q228.05,296.9 229.05,298.08 L229.13,298.19 L229.2,298.31 L229.28,298.43 L229.35,298.56 L229.43,298.7 L229.5,298.83 L229.58,298.98 L229.65,299.13 L229.73,299.28 L229.8,299.44 L229.88,299.6 L229.95,299.77 L230.03,299.94 L230.1,300.12 L230.18,300.3 L230.26,300.49 L230.33,300.68 L230.41,300.87 L230.48,301.07 L230.56,301.28 L230.63,301.49 L230.71,301.7 L230.78,301.92 L230.86,302.14 L230.93,302.37 L231.01,302.6 L231.08,302.83 L231.16,303.07 L231.23,303.31 L231.31,303.56 L231.38,303.81 L231.46,304.07 L231.54,304.33 L231.61,304.59 L231.69,304.86 L231.76,305.13 L231.84,305.4 L231.91,305.68 L231.99,305.96 L232.06,306.24 L232.14,306.53 L232.21,306.82 L232.29,307.12 L232.36,307.41 L232.44,307.72 L232.51,308.02 L232.59,308.33 L232.66,308.64 L232.74,308.95 L232.82,309.27 L232.89,309.59 L232.97,309.91 L233.04,310.23 L233.12,310.56 L233.19,310.89 L233.27,311.22 L233.34,311.56 L233.42,311.89 L233.49,312.23 L233.57,312.58 L233.64,312.92 L233.72,313.27 L233.79,313.61 L233.87,313.96 L233.94,314.32 L234.02,314.67 L234.1,315.02 L234.17,315.38 L234.25,315.74 L234.32,316.1 L234.4,316.46 L234.47,316.82 L234.55,317.19 L234.62,317.55 L234.7,317.92 L234.77,318.29 L234.85,318.66 L234.92,319.03 L235,319.4 L235.07,319.77 L235.15,320.14 L235.22,320.51 L235.3,320.89 L235.38,321.26 L235.45,321.63 L235.53,322.01 L235.6,322.38 L235.68,322.76 L235.75,323.13 L235.83,323.51 L235.9,323.88 L235.98,324.26 L236.05,324.63 L236.13,325.01 L236.2,325.38 L236.28,325.76 L236.35,326.13 L236.43,326.5 L236.51,326.87 L236.58,327.25 L236.66,327.62 L236.73,327.99 L236.81,328.35 L236.88,328.72 L236.96,329.09 L237.03,329.45 L237.11,329.82 L237.18,330.18 L237.26,330.54 L237.33,330.9 L237.41,331.26 L237.48,331.62 L237.56,331.97 L237.63,332.33 L237.71,332.68 L237.79,333.03 L237.86,333.37 L237.94,333.72 L238.01,334.06 L238.09,334.41 L238.16,334.74 L238.24,335.08 L238.31,335.42 L238.39,335.75 L238.46,336.08 L238.54,336.4 L238.61,336.73 L238.69,337.05 L238.76,337.37 L238.84,337.68 L238.91,338 L238.99,338.31 L239.07,338.61 L239.14,338.92 L239.22,339.22 L239.29,339.52 L239.37,339.81 L239.44,340.1 L239.52,340.39 L239.59,340.67 L239.67,340.96 L239.74,341.23 L239.82,341.51 L239.89,341.78" stroke="#0d0d0d" stroke-width="1.15" fill="none" stroke-linejoin="round" stroke-linecap="round"/>
<path d="M235.63,302.34 L235.7,302.57 L235.78,302.81 L235.85,303.04 L235.93,303.29 L236,303.53 L236.08,303.78 L236.15,304.04 L236.23,304.3 L236.3,304.56 L236.38,304.82 L236.46,305.09 L236.53,305.37 L236.61,305.64 L236.68,305.93 L236.76,306.21 L236.83,306.5 L236.91,306.79 L236.98,307.08 L237.06,307.38 L237.13,307.68 L237.21,307.99 L237.28,308.29 L237.36,308.6 L237.43,308.92 L237.51,309.23 L237.58,309.55 L237.66,309.87 L237.74,310.2 L237.81,310.52 L237.89,310.85 L237.96,311.18 L238.04,311.52 L238.11,311.86 L238.19,312.19 L238.26,312.54 L238.34,312.88 L238.41,313.23 L238.49,313.57 L238.56,313.92 L238.64,314.27 L238.71,314.63 L238.79,314.98 L238.86,315.34 L238.94,315.7 L239.02,316.06 L239.09,316.42 L239.17,316.78 L239.24,317.15 L239.32,317.51 L239.39,317.88 L239.47,318.25 L239.54,318.61 L239.62,318.98 L239.69,319.35 L239.77,319.73 L239.84,320.1 L239.92,320.47 L239.99,320.84 L240.07,321.22 L240.14,321.59 L240.22,321.97 L240.3,322.34 L240.37,322.72 L240.45,323.09 L240.52,323.47 L240.6,323.84 L240.67,324.22 L240.75,324.59 L240.82,324.97 L240.9,325.34 L240.97,325.71 L241.05,326.09 L241.12,326.46 L241.2,326.83 L241.27,327.2 L241.35,327.57 L241.43,327.94 L241.5,328.31 L241.58,328.68 L241.65,329.05 L241.73,329.41 L241.8,329.78 L241.88,330.14 L241.95,330.5 L242.03,330.86 L242.1,331.22 L242.18,331.58 L242.25,331.93 L242.33,332.28 L242.4,332.64 L242.48,332.99 L242.55,333.33 L242.63,333.68 L242.71,334.02 L242.78,334.37 L242.86,334.71 L242.93,335.04 L243.01,335.38 L243.08,335.71 L243.16,336.04 L243.23,336.37 L243.31,336.69 L243.38,337.01 L243.46,337.33 L243.53,337.65 L243.61,337.96 L243.68,338.27 L243.76,338.58 L243.83,338.88 L243.91,339.19 L243.99,339.48 L244.06,339.78 L244.14,340.07 L244.21,340.36 L244.29,340.64 L244.36,340.92 L244.44,341.2 L244.51,341.47 L244.59,341.74 L244.66,342.01 L244.74,342.27 L244.81,342.53 L244.89,342.79 L244.96,343.04 L245.04,343.29 L245.11,343.53 L245.19,343.77 L245.27,344 L245.34,344.23 L245.42,344.46 L245.49,344.68 L245.57,344.9 L245.64,345.11 L245.72,345.32 L245.79,345.53 L245.87,345.73 L245.94,345.92 L246.02,346.11 L246.09,346.3 L246.17,346.48 L246.24,346.66 L246.32,346.83 L246.39,347 L246.47,347.16 L246.55,347.32 L246.62,347.47 L246.7,347.62 L246.77,347.77 L246.85,347.9 L246.92,348.04 L247,348.17 L247.07,348.29 L247.15,348.41 L247.22,348.52 Q248.22,349.7 250.82,349.7" stroke="#0d0d0d" stroke-width="1.15" fill="none" stroke-linejoin="round" stroke-linecap="round"/>
<path d="M257.6,297.06 L257.93,295.29 L258.27,293.63 L258.6,292.09 L258.93,290.67 L259.27,289.38 L259.6,288.23 L259.93,287.21 L260.27,286.33 L260.6,285.6 L260.93,285.01 L261.27,284.58 L261.6,284.3 L261.93,284.17 L262.26,284.2" stroke="#0d0d0d" stroke-width="1.5" fill="none" stroke-linejoin="round" stroke-linecap="round"/>
<path d="M278.39,363.25 L278.73,363.31 L279.07,363.21 L279.41,362.94 L279.75,362.51 L280.09,361.92 L280.43,361.16 L280.77,360.25 L281.11,359.19 L281.45,357.97 L281.79,356.62 L282.13,355.12 L282.47,353.49 L282.82,351.73 L283.16,349.86" stroke="#0d0d0d" stroke-width="1.5" fill="none" stroke-linejoin="round" stroke-linecap="round"/>
<path d="M261.97,283.51 L262.63,283.39 L263.35,283.48 L264.03,283.74 L264.68,284.13 L265.3,284.62 L265.91,285.22 L266.5,285.91 L267.06,286.71 L267.54,287.62 L267.94,288.64 L268.23,289.75 L268.52,290.94 L268.8,292.22 L269.09,293.58 L269.37,295.01 L269.65,296.52 L269.93,298.09 L270.21,299.74 L270.49,301.44 L270.77,303.21 L271.05,305.03 L271.33,306.89 L271.61,308.81 L271.89,310.76 L272.16,312.74 L272.44,314.75 L272.72,316.79 L273,318.84 L273.13,320.91 L273.25,323 L273.38,325.08 L273.5,327.16 L273.61,329.23 L273.7,331.28 L273.8,333.32 L273.89,335.32 L274.03,337.3 L274.27,339.22 L274.52,341.1 L274.77,342.93 L275.01,344.71 L275.26,346.43 L275.5,348.09 L275.75,349.68 L275.99,351.19 L276.24,352.63 L276.48,353.99 L276.7,355.26 L276.92,356.45 L277.14,357.54 L277.36,358.54 L277.58,359.44 L277.8,360.23 L278.01,360.92 L278.22,361.5 L278.41,361.96 L278.59,362.31 L278.74,362.54 L278.85,362.62 L278.89,362.63 L278.81,363.99 L278.29,363.86 L277.86,363.58 L277.46,363.22 L277.11,362.77 L276.77,362.22 L276.44,361.58 L276.12,360.84 L275.81,360.01 L275.49,359.08 L275.18,358.06 L274.87,356.95 L274.56,355.74 L274.25,354.46 L273.94,353.08 L273.63,351.64 L273.32,350.11 L273.01,348.52 L272.7,346.85 L272.39,345.13 L272.08,343.35 L271.77,341.51 L271.47,339.63 L271.16,337.71 L270.9,335.74 L270.66,333.75 L270.42,331.73 L270.18,329.69 L269.97,327.63 L269.76,325.56 L269.55,323.49 L269.35,321.42 L269.13,319.36 L268.86,317.31 L268.58,315.28 L268.3,313.28 L268.02,311.3 L267.75,309.36 L267.47,307.46 L267.19,305.61 L266.92,303.81 L266.64,302.06 L266.36,300.38 L266.09,298.76 L265.81,297.22 L265.54,295.75 L265.26,294.35 L264.99,293.04 L264.72,291.82 L264.45,290.7 L264.18,289.66 L263.86,288.73 L263.52,287.9 L263.24,287.16 L263,286.52 L262.77,285.98 L262.56,285.56 L262.37,285.25 L262.22,285.05 L262.12,284.92 L262.03,284.81Z" fill="#0d0d0d" stroke="none"/>
<path d="M258.42,296.9 Q261.02,296.9 262.02,298.08 L262.09,298.19 L262.17,298.31 L262.24,298.43 L262.32,298.56 L262.39,298.7 L262.47,298.83 L262.55,298.98 L262.62,299.13 L262.7,299.28 L262.77,299.44 L262.85,299.6 L262.92,299.77 L263,299.94 L263.07,300.12 L263.15,300.3 L263.22,300.49 L263.3,300.68 L263.37,300.87 L263.45,301.07 L263.52,301.28 L263.6,301.49 L263.67,301.7 L263.75,301.92 L263.83,302.14 L263.9,302.37 L263.98,302.6 L264.05,302.83 L264.13,303.07 L264.2,303.31 L264.28,303.56 L264.35,303.81 L264.43,304.07 L264.5,304.33 L264.58,304.59 L264.65,304.86 L264.73,305.13 L264.8,305.4 L264.88,305.68 L264.95,305.96 L265.03,306.24 L265.11,306.53 L265.18,306.82 L265.26,307.12 L265.33,307.41 L265.41,307.72 L265.48,308.02 L265.56,308.33 L265.63,308.64 L265.71,308.95 L265.78,309.27 L265.86,309.59 L265.93,309.91 L266.01,310.23 L266.08,310.56 L266.16,310.89 L266.23,311.22 L266.31,311.56 L266.39,311.89 L266.46,312.23 L266.54,312.58 L266.61,312.92 L266.69,313.27 L266.76,313.61 L266.84,313.96 L266.91,314.32 L266.99,314.67 L267.06,315.02 L267.14,315.38 L267.21,315.74 L267.29,316.1 L267.36,316.46 L267.44,316.82 L267.52,317.19 L267.59,317.55 L267.67,317.92 L267.74,318.29 L267.82,318.66 L267.89,319.03 L267.97,319.4 L268.04,319.77 L268.12,320.14 L268.19,320.51 L268.27,320.89 L268.34,321.26 L268.42,321.63 L268.49,322.01 L268.57,322.38 L268.64,322.76 L268.72,323.13 L268.8,323.51 L268.87,323.88 L268.95,324.26 L269.02,324.63 L269.1,325.01 L269.17,325.38 L269.25,325.76 L269.32,326.13 L269.4,326.5 L269.47,326.87 L269.55,327.25 L269.62,327.62 L269.7,327.99 L269.77,328.35 L269.85,328.72 L269.92,329.09 L270,329.45 L270.08,329.82 L270.15,330.18 L270.23,330.54 L270.3,330.9 L270.38,331.26 L270.45,331.62 L270.53,331.97 L270.6,332.33 L270.68,332.68 L270.75,333.03 L270.83,333.37 L270.9,333.72 L270.98,334.06 L271.05,334.41 L271.13,334.74 L271.2,335.08 L271.28,335.42 L271.36,335.75 L271.43,336.08 L271.51,336.4 L271.58,336.73 L271.66,337.05 L271.73,337.37 L271.81,337.68 L271.88,338 L271.96,338.31 L272.03,338.61 L272.11,338.92 L272.18,339.22 L272.26,339.52 L272.33,339.81 L272.41,340.1 L272.48,340.39 L272.56,340.67 L272.64,340.96 L272.71,341.23 L272.79,341.51 L272.86,341.78 L272.94,342.04 L273.01,342.3 L273.09,342.56 L273.16,342.82 L273.24,343.07 L273.31,343.31" stroke="#0d0d0d" stroke-width="1.15" fill="none" stroke-linejoin="round" stroke-linecap="round"/>
<path d="M268.72,300.28 L268.8,300.46 L268.88,300.66 L268.95,300.85 L269.03,301.05 L269.1,301.25 L269.18,301.46 L269.25,301.68 L269.33,301.89 L269.4,302.11 L269.48,302.34 L269.55,302.57 L269.63,302.81 L269.7,303.04 L269.78,303.29 L269.85,303.53 L269.93,303.78 L270,304.04 L270.08,304.3 L270.16,304.56 L270.23,304.82 L270.31,305.09 L270.38,305.37 L270.46,305.64 L270.53,305.93 L270.61,306.21 L270.68,306.5 L270.76,306.79 L270.83,307.08 L270.91,307.38 L270.98,307.68 L271.06,307.99 L271.13,308.29 L271.21,308.6 L271.28,308.92 L271.36,309.23 L271.44,309.55 L271.51,309.87 L271.59,310.2 L271.66,310.52 L271.74,310.85 L271.81,311.18 L271.89,311.52 L271.96,311.86 L272.04,312.19 L272.11,312.54 L272.19,312.88 L272.26,313.23 L272.34,313.57 L272.41,313.92 L272.49,314.27 L272.56,314.63 L272.64,314.98 L272.72,315.34 L272.79,315.7 L272.87,316.06 L272.94,316.42 L273.02,316.78 L273.09,317.15 L273.17,317.51 L273.24,317.88 L273.32,318.25 L273.39,318.61 L273.47,318.98 L273.54,319.35 L273.62,319.73 L273.69,320.1 L273.77,320.47 L273.85,320.84 L273.92,321.22 L274,321.59 L274.07,321.97 L274.15,322.34 L274.22,322.72 L274.3,323.09 L274.37,323.47 L274.45,323.84 L274.52,324.22 L274.6,324.59 L274.67,324.97 L274.75,325.34 L274.82,325.71 L274.9,326.09 L274.97,326.46 L275.05,326.83 L275.13,327.2 L275.2,327.57 L275.28,327.94 L275.35,328.31 L275.43,328.68 L275.5,329.05 L275.58,329.41 L275.65,329.78 L275.73,330.14 L275.8,330.5 L275.88,330.86 L275.95,331.22 L276.03,331.58 L276.1,331.93 L276.18,332.28 L276.25,332.64 L276.33,332.99 L276.41,333.33 L276.48,333.68 L276.56,334.02 L276.63,334.37 L276.71,334.71 L276.78,335.04 L276.86,335.38 L276.93,335.71 L277.01,336.04 L277.08,336.37 L277.16,336.69 L277.23,337.01 L277.31,337.33 L277.38,337.65 L277.46,337.96 L277.53,338.27 L277.61,338.58 L277.69,338.88 L277.76,339.19 L277.84,339.48 L277.91,339.78 L277.99,340.07 L278.06,340.36 L278.14,340.64 L278.21,340.92 L278.29,341.2 L278.36,341.47 L278.44,341.74 L278.51,342.01 L278.59,342.27 L278.66,342.53 L278.74,342.79 L278.81,343.04 L278.89,343.29 L278.97,343.53 L279.04,343.77 L279.12,344 L279.19,344.23 L279.27,344.46 L279.34,344.68 L279.42,344.9 L279.49,345.11 L279.57,345.32 L279.64,345.53 L279.72,345.73 L279.79,345.92 L279.87,346.11 L279.94,346.3 L280.02,346.48 L280.09,346.66 L280.17,346.83 L280.25,347 L280.32,347.16 L280.4,347.32 L280.47,347.47 L280.55,347.62 L280.62,347.77 L280.7,347.9 L280.77,348.04 L280.85,348.17 L280.92,348.29 L281,348.41 L281.07,348.52 Q282.07,349.7 284.67,349.7" stroke="#0d0d0d" stroke-width="1.15" fill="none" stroke-linejoin="round" stroke-linecap="round"/>
<path d="M290.7,297.06 L291.04,295.06 L291.39,293.19 L291.74,291.45 L292.09,289.84 L292.43,288.38 L292.78,287.06 L293.13,285.9 L293.48,284.9 L293.83,284.06 L294.17,283.39 L294.52,282.9 L294.87,282.57 L295.22,282.43 L295.56,282.45" stroke="#0d0d0d" stroke-width="1.5" fill="none" stroke-linejoin="round" stroke-linecap="round"/>
<path d="M311.69,364.99 L312.04,365.06 L312.39,364.94 L312.75,364.63 L313.1,364.13 L313.46,363.46 L313.81,362.6 L314.17,361.57 L314.52,360.36 L314.88,358.99 L315.23,357.45 L315.58,355.77 L315.94,353.93 L316.29,351.96 L316.65,349.86" stroke="#0d0d0d" stroke-width="1.5" fill="none" stroke-linejoin="round" stroke-linecap="round"/>
<path d="M295.27,281.77 L295.95,281.65 L296.67,281.76 L297.35,282.04 L298,282.45 L298.62,282.96 L299.22,283.58 L299.82,284.31 L300.37,285.14 L300.85,286.09 L301.25,287.15 L301.54,288.31 L301.82,289.55 L302.11,290.88 L302.39,292.3 L302.67,293.79 L302.95,295.37 L303.23,297.01 L303.51,298.73 L303.79,300.51 L304.07,302.35 L304.35,304.25 L304.63,306.2 L304.91,308.19 L305.19,310.23 L305.47,312.3 L305.74,314.4 L306.02,316.53 L306.3,318.67 L306.44,320.84 L306.56,323.01 L306.68,325.18 L306.8,327.35 L306.92,329.51 L307.01,331.66 L307.1,333.78 L307.19,335.87 L307.33,337.93 L307.57,339.94 L307.82,341.9 L308.07,343.82 L308.31,345.67 L308.56,347.47 L308.8,349.2 L309.05,350.86 L309.3,352.44 L309.54,353.94 L309.78,355.36 L310,356.69 L310.22,357.93 L310.45,359.07 L310.67,360.11 L310.88,361.05 L311.1,361.88 L311.31,362.6 L311.52,363.2 L311.72,363.69 L311.9,364.05 L312.05,364.29 L312.16,364.37 L312.19,364.38 L312.11,365.74 L311.59,365.6 L311.15,365.31 L310.75,364.94 L310.4,364.47 L310.06,363.9 L309.74,363.23 L309.42,362.46 L309.1,361.6 L308.79,360.63 L308.48,359.56 L308.16,358.4 L307.85,357.15 L307.54,355.81 L307.23,354.38 L306.92,352.86 L306.62,351.27 L306.31,349.61 L306,347.87 L305.69,346.07 L305.38,344.21 L305.07,342.3 L304.76,340.33 L304.46,338.32 L304.2,336.28 L303.96,334.2 L303.72,332.09 L303.48,329.96 L303.27,327.81 L303.06,325.65 L302.85,323.48 L302.65,321.32 L302.43,319.17 L302.15,317.03 L301.88,314.91 L301.6,312.82 L301.32,310.75 L301.05,308.73 L300.77,306.74 L300.49,304.81 L300.22,302.93 L299.94,301.1 L299.66,299.34 L299.39,297.65 L299.11,296.04 L298.84,294.5 L298.56,293.04 L298.29,291.67 L298.01,290.4 L297.74,289.22 L297.47,288.13 L297.16,287.16 L296.81,286.29 L296.53,285.51 L296.29,284.84 L296.06,284.27 L295.85,283.83 L295.65,283.51 L295.5,283.3 L295.41,283.17 L295.33,283.06Z" fill="#0d0d0d" stroke="none"/>
<path d="M291.39,296.9 Q293.99,296.9 294.99,298.08 L295.06,298.19 L295.14,298.31 L295.21,298.43 L295.29,298.56 L295.36,298.7 L295.44,298.83 L295.51,298.98 L295.59,299.13 L295.66,299.28 L295.74,299.44 L295.81,299.6 L295.89,299.77 L295.96,299.94 L296.04,300.12 L296.12,300.3 L296.19,300.49 L296.27,300.68 L296.34,300.87 L296.42,301.07 L296.49,301.28 L296.57,301.49 L296.64,301.7 L296.72,301.92 L296.79,302.14 L296.87,302.37 L296.94,302.6 L297.02,302.83 L297.09,303.07 L297.17,303.31 L297.24,303.56 L297.32,303.81 L297.4,304.07 L297.47,304.33 L297.55,304.59 L297.62,304.86 L297.7,305.13 L297.77,305.4 L297.85,305.68 L297.92,305.96 L298,306.24 L298.07,306.53 L298.15,306.82 L298.22,307.12 L298.3,307.41 L298.37,307.72 L298.45,308.02 L298.53,308.33 L298.6,308.64 L298.68,308.95 L298.75,309.27 L298.83,309.59 L298.9,309.91 L298.98,310.23 L299.05,310.56 L299.13,310.89 L299.2,311.22 L299.28,311.56 L299.35,311.89 L299.43,312.23 L299.5,312.58 L299.58,312.92 L299.65,313.27 L299.73,313.61 L299.81,313.96 L299.88,314.32 L299.96,314.67 L300.03,315.02 L300.11,315.38 L300.18,315.74 L300.26,316.1 L300.33,316.46 L300.41,316.82 L300.48,317.19 L300.56,317.55 L300.63,317.92 L300.71,318.29 L300.78,318.66 L300.86,319.03 L300.93,319.4 L301.01,319.77 L301.09,320.14 L301.16,320.51 L301.24,320.89 L301.31,321.26 L301.39,321.63 L301.46,322.01 L301.54,322.38 L301.61,322.76 L301.69,323.13 L301.76,323.51 L301.84,323.88 L301.91,324.26 L301.99,324.63 L302.06,325.01 L302.14,325.38 L302.21,325.76 L302.29,326.13 L302.37,326.5 L302.44,326.87 L302.52,327.25 L302.59,327.62 L302.67,327.99 L302.74,328.35 L302.82,328.72 L302.89,329.09 L302.97,329.45 L303.04,329.82 L303.12,330.18 L303.19,330.54 L303.27,330.9 L303.34,331.26 L303.42,331.62 L303.49,331.97 L303.57,332.33 L303.65,332.68 L303.72,333.03 L303.8,333.37 L303.87,333.72 L303.95,334.06 L304.02,334.41 L304.1,334.74 L304.17,335.08 L304.25,335.42 L304.32,335.75 L304.4,336.08 L304.47,336.4 L304.55,336.73 L304.62,337.05 L304.7,337.37 L304.77,337.68 L304.85,338 L304.93,338.31 L305,338.61 L305.08,338.92 L305.15,339.22 L305.23,339.52 L305.3,339.81 L305.38,340.1 L305.45,340.39 L305.53,340.67 L305.6,340.96 L305.68,341.23 L305.75,341.51 L305.83,341.78 L305.9,342.04 L305.98,342.3 L306.06,342.56 L306.13,342.82 L306.21,343.07 L306.28,343.31 L306.36,343.56 L306.43,343.79 L306.51,344.03 L306.58,344.26 L306.66,344.49" stroke="#0d0d0d" stroke-width="1.15" fill="none" stroke-linejoin="round" stroke-linecap="round"/>
<path d="M301.97,298.96 L302.05,299.11 L302.12,299.26 L302.2,299.42 L302.27,299.58 L302.35,299.75 L302.42,299.92 L302.5,300.1 L302.58,300.28 L302.65,300.46 L302.73,300.66 L302.8,300.85 L302.88,301.05 L302.95,301.25 L303.03,301.46 L303.1,301.68 L303.18,301.89 L303.25,302.11 L303.33,302.34 L303.4,302.57 L303.48,302.81 L303.55,303.04 L303.63,303.29 L303.7,303.53 L303.78,303.78 L303.86,304.04 L303.93,304.3 L304.01,304.56 L304.08,304.82 L304.16,305.09 L304.23,305.37 L304.31,305.64 L304.38,305.93 L304.46,306.21 L304.53,306.5 L304.61,306.79 L304.68,307.08 L304.76,307.38 L304.83,307.68 L304.91,307.99 L304.98,308.29 L305.06,308.6 L305.14,308.92 L305.21,309.23 L305.29,309.55 L305.36,309.87 L305.44,310.2 L305.51,310.52 L305.59,310.85 L305.66,311.18 L305.74,311.52 L305.81,311.86 L305.89,312.19 L305.96,312.54 L306.04,312.88 L306.11,313.23 L306.19,313.57 L306.27,313.92 L306.34,314.27 L306.42,314.63 L306.49,314.98 L306.57,315.34 L306.64,315.7 L306.72,316.06 L306.79,316.42 L306.87,316.78 L306.94,317.15 L307.02,317.51 L307.09,317.88 L307.17,318.25 L307.24,318.61 L307.32,318.98 L307.39,319.35 L307.47,319.73 L307.55,320.1 L307.62,320.47 L307.7,320.84 L307.77,321.22 L307.85,321.59 L307.92,321.97 L308,322.34 L308.07,322.72 L308.15,323.09 L308.22,323.47 L308.3,323.84 L308.37,324.22 L308.45,324.59 L308.52,324.97 L308.6,325.34 L308.67,325.71 L308.75,326.09 L308.83,326.46 L308.9,326.83 L308.98,327.2 L309.05,327.57 L309.13,327.94 L309.2,328.31 L309.28,328.68 L309.35,329.05 L309.43,329.41 L309.5,329.78 L309.58,330.14 L309.65,330.5 L309.73,330.86 L309.8,331.22 L309.88,331.58 L309.95,331.93 L310.03,332.28 L310.11,332.64 L310.18,332.99 L310.26,333.33 L310.33,333.68 L310.41,334.02 L310.48,334.37 L310.56,334.71 L310.63,335.04 L310.71,335.38 L310.78,335.71 L310.86,336.04 L310.93,336.37 L311.01,336.69 L311.08,337.01 L311.16,337.33 L311.23,337.65 L311.31,337.96 L311.39,338.27 L311.46,338.58 L311.54,338.88 L311.61,339.19 L311.69,339.48 L311.76,339.78 L311.84,340.07 L311.91,340.36 L311.99,340.64 L312.06,340.92 L312.14,341.2 L312.21,341.47 L312.29,341.74 L312.36,342.01 L312.44,342.27 L312.51,342.53 L312.59,342.79 L312.67,343.04 L312.74,343.29 L312.82,343.53 L312.89,343.77 L312.97,344 L313.04,344.23 L313.12,344.46 L313.19,344.68 L313.27,344.9 L313.34,345.11 L313.42,345.32 L313.49,345.53 L313.57,345.73 L313.64,345.92 L313.72,346.11 L313.8,346.3 L313.87,346.48 L313.95,346.66 L314.02,346.83 L314.1,347 L314.17,347.16 L314.25,347.32 L314.32,347.47 L314.4,347.62 L314.47,347.77 L314.55,347.9 L314.62,348.04 L314.7,348.17 L314.77,348.29 L314.85,348.41 L314.92,348.52 Q315.92,349.7 318.52,349.7" stroke="#0d0d0d" stroke-width="1.15" fill="none" stroke-linejoin="round" stroke-linecap="round"/>
<path d="M323.81,297.06 L324.17,294.84 L324.54,292.75 L324.9,290.81 L325.26,289.01 L325.62,287.37 L325.98,285.9 L326.34,284.59 L326.7,283.47 L327.06,282.53 L327.42,281.78 L327.78,281.22 L328.14,280.85 L328.5,280.68 L328.86,280.71" stroke="#0d0d0d" stroke-width="1.5" fill="none" stroke-linejoin="round" stroke-linecap="round"/>
<path d="M344.99,366.74 L345.35,366.8 L345.72,366.66 L346.09,366.31 L346.45,365.75 L346.82,364.99 L347.19,364.03 L347.55,362.88 L347.92,361.53 L348.29,360 L348.65,358.29 L349.02,356.41 L349.39,354.37 L349.75,352.18 L350.12,349.86" stroke="#0d0d0d" stroke-width="1.5" fill="none" stroke-linejoin="round" stroke-linecap="round"/>
<path d="M328.57,280.02 L329.26,279.91 L329.98,280.03 L330.67,280.33 L331.31,280.76 L331.93,281.3 L332.53,281.95 L333.12,282.7 L333.68,283.57 L334.16,284.56 L334.55,285.66 L334.84,286.86 L335.13,288.16 L335.41,289.54 L335.69,291.02 L335.98,292.57 L336.26,294.21 L336.54,295.93 L336.82,297.72 L337.1,299.57 L337.38,301.49 L337.65,303.47 L337.93,305.5 L338.21,307.58 L338.49,309.7 L338.77,311.86 L339.05,314.05 L339.32,316.27 L339.6,318.5 L339.74,320.76 L339.86,323.02 L339.98,325.29 L340.1,327.55 L340.22,329.8 L340.31,332.03 L340.4,334.24 L340.49,336.42 L340.63,338.57 L340.87,340.66 L341.12,342.71 L341.37,344.7 L341.61,346.64 L341.86,348.51 L342.11,350.31 L342.35,352.04 L342.6,353.68 L342.84,355.25 L343.08,356.73 L343.3,358.11 L343.53,359.4 L343.75,360.59 L343.97,361.68 L344.19,362.66 L344.4,363.52 L344.62,364.27 L344.83,364.9 L345.03,365.41 L345.21,365.79 L345.36,366.03 L345.47,366.12 L345.49,366.13 L345.41,367.49 L344.88,367.35 L344.44,367.04 L344.05,366.66 L343.69,366.17 L343.36,365.58 L343.03,364.88 L342.72,364.09 L342.4,363.18 L342.09,362.18 L341.77,361.07 L341.46,359.86 L341.15,358.56 L340.84,357.16 L340.53,355.67 L340.22,354.09 L339.91,352.44 L339.61,350.7 L339.3,348.89 L338.99,347.02 L338.68,345.08 L338.37,343.08 L338.06,341.04 L337.75,338.94 L337.49,336.81 L337.26,334.64 L337.02,332.44 L336.78,330.22 L336.57,327.98 L336.36,325.73 L336.15,323.48 L335.94,321.22 L335.73,318.98 L335.45,316.75 L335.18,314.54 L334.9,312.36 L334.62,310.2 L334.35,308.09 L334.07,306.02 L333.79,304.01 L333.51,302.04 L333.24,300.14 L332.96,298.31 L332.69,296.54 L332.41,294.86 L332.13,293.25 L331.86,291.73 L331.59,290.3 L331.31,288.97 L331.04,287.74 L330.77,286.61 L330.45,285.58 L330.1,284.68 L329.82,283.86 L329.58,283.16 L329.35,282.57 L329.14,282.1 L328.94,281.76 L328.79,281.55 L328.7,281.42 L328.63,281.32Z" fill="#0d0d0d" stroke="none"/>
<path d="M324.35,296.9 Q326.95,296.9 327.95,298.08 L328.03,298.19 L328.1,298.31 L328.18,298.43 L328.25,298.56 L328.33,298.7 L328.41,298.83 L328.48,298.98 L328.56,299.13 L328.63,299.28 L328.71,299.44 L328.78,299.6 L328.86,299.77 L328.93,299.94 L329.01,300.12 L329.08,300.3 L329.16,300.49 L329.23,300.68 L329.31,300.87 L329.38,301.07 L329.46,301.28 L329.54,301.49 L329.61,301.7 L329.69,301.92 L329.76,302.14 L329.84,302.37 L329.91,302.6 L329.99,302.83 L330.06,303.07 L330.14,303.31 L330.21,303.56 L330.29,303.81 L330.36,304.07 L330.44,304.33 L330.51,304.59 L330.59,304.86 L330.66,305.13 L330.74,305.4 L330.82,305.68 L330.89,305.96 L330.97,306.24 L331.04,306.53 L331.12,306.82 L331.19,307.12 L331.27,307.41 L331.34,307.72 L331.42,308.02 L331.49,308.33 L331.57,308.64 L331.64,308.95 L331.72,309.27 L331.79,309.59 L331.87,309.91 L331.94,310.23 L332.02,310.56 L332.1,310.89 L332.17,311.22 L332.25,311.56 L332.32,311.89 L332.4,312.23 L332.47,312.58 L332.55,312.92 L332.62,313.27 L332.7,313.61 L332.77,313.96 L332.85,314.32 L332.92,314.67 L333,315.02 L333.07,315.38 L333.15,315.74 L333.22,316.1 L333.3,316.46 L333.38,316.82 L333.45,317.19 L333.53,317.55 L333.6,317.92 L333.68,318.29 L333.75,318.66 L333.83,319.03 L333.9,319.4 L333.98,319.77 L334.05,320.14 L334.13,320.51 L334.2,320.89 L334.28,321.26 L334.35,321.63 L334.43,322.01 L334.5,322.38 L334.58,322.76 L334.66,323.13 L334.73,323.51 L334.81,323.88 L334.88,324.26 L334.96,324.63 L335.03,325.01 L335.11,325.38 L335.18,325.76 L335.26,326.13 L335.33,326.5 L335.41,326.87 L335.48,327.25 L335.56,327.62 L335.63,327.99 L335.71,328.35 L335.79,328.72 L335.86,329.09 L335.94,329.45 L336.01,329.82 L336.09,330.18 L336.16,330.54 L336.24,330.9 L336.31,331.26 L336.39,331.62 L336.46,331.97 L336.54,332.33 L336.61,332.68 L336.69,333.03 L336.76,333.37 L336.84,333.72 L336.91,334.06 L336.99,334.41 L337.07,334.74 L337.14,335.08 L337.22,335.42 L337.29,335.75 L337.37,336.08 L337.44,336.4 L337.52,336.73 L337.59,337.05 L337.67,337.37 L337.74,337.68 L337.82,338 L337.89,338.31 L337.97,338.61 L338.04,338.92 L338.12,339.22 L338.19,339.52 L338.27,339.81 L338.35,340.1 L338.42,340.39 L338.5,340.67 L338.57,340.96 L338.65,341.23 L338.72,341.51 L338.8,341.78 L338.87,342.04 L338.95,342.3 L339.02,342.56 L339.1,342.82 L339.17,343.07 L339.25,343.31 L339.32,343.56 L339.4,343.79 L339.47,344.03 L339.55,344.26 L339.63,344.49 L339.7,344.71 L339.78,344.92 L339.85,345.14 L339.93,345.35" stroke="#0d0d0d" stroke-width="1.15" fill="none" stroke-linejoin="round" stroke-linecap="round"/>
<path d="M335.3,298.07 L335.37,298.18 L335.45,298.3 L335.52,298.42 L335.6,298.55 L335.67,298.68 L335.75,298.82 L335.82,298.96 L335.9,299.11 L335.97,299.26 L336.05,299.42 L336.12,299.58 L336.2,299.75 L336.28,299.92 L336.35,300.1 L336.43,300.28 L336.5,300.46 L336.58,300.66 L336.65,300.85 L336.73,301.05 L336.8,301.25 L336.88,301.46 L336.95,301.68 L337.03,301.89 L337.1,302.11 L337.18,302.34 L337.25,302.57 L337.33,302.81 L337.4,303.04 L337.48,303.29 L337.56,303.53 L337.63,303.78 L337.71,304.04 L337.78,304.3 L337.86,304.56 L337.93,304.82 L338.01,305.09 L338.08,305.37 L338.16,305.64 L338.23,305.93 L338.31,306.21 L338.38,306.5 L338.46,306.79 L338.53,307.08 L338.61,307.38 L338.69,307.68 L338.76,307.99 L338.84,308.29 L338.91,308.6 L338.99,308.92 L339.06,309.23 L339.14,309.55 L339.21,309.87 L339.29,310.2 L339.36,310.52 L339.44,310.85 L339.51,311.18 L339.59,311.52 L339.66,311.86 L339.74,312.19 L339.81,312.54 L339.89,312.88 L339.97,313.23 L340.04,313.57 L340.12,313.92 L340.19,314.27 L340.27,314.63 L340.34,314.98 L340.42,315.34 L340.49,315.7 L340.57,316.06 L340.64,316.42 L340.72,316.78 L340.79,317.15 L340.87,317.51 L340.94,317.88 L341.02,318.25 L341.09,318.61 L341.17,318.98 L341.25,319.35 L341.32,319.73 L341.4,320.1 L341.47,320.47 L341.55,320.84 L341.62,321.22 L341.7,321.59 L341.77,321.97 L341.85,322.34 L341.92,322.72 L342,323.09 L342.07,323.47 L342.15,323.84 L342.22,324.22 L342.3,324.59 L342.37,324.97 L342.45,325.34 L342.53,325.71 L342.6,326.09 L342.68,326.46 L342.75,326.83 L342.83,327.2 L342.9,327.57 L342.98,327.94 L343.05,328.31 L343.13,328.68 L343.2,329.05 L343.28,329.41 L343.35,329.78 L343.43,330.14 L343.5,330.5 L343.58,330.86 L343.65,331.22 L343.73,331.58 L343.81,331.93 L343.88,332.28 L343.96,332.64 L344.03,332.99 L344.11,333.33 L344.18,333.68 L344.26,334.02 L344.33,334.37 L344.41,334.71 L344.48,335.04 L344.56,335.38 L344.63,335.71 L344.71,336.04 L344.78,336.37 L344.86,336.69 L344.93,337.01 L345.01,337.33 L345.09,337.65 L345.16,337.96 L345.24,338.27 L345.31,338.58 L345.39,338.88 L345.46,339.19 L345.54,339.48 L345.61,339.78 L345.69,340.07 L345.76,340.36 L345.84,340.64 L345.91,340.92 L345.99,341.2 L346.06,341.47 L346.14,341.74 L346.22,342.01 L346.29,342.27 L346.37,342.53 L346.44,342.79 L346.52,343.04 L346.59,343.29 L346.67,343.53 L346.74,343.77 L346.82,344 L346.89,344.23 L346.97,344.46 L347.04,344.68 L347.12,344.9 L347.19,345.11 L347.27,345.32 L347.34,345.53 L347.42,345.73 L347.5,345.92 L347.57,346.11 L347.65,346.3 L347.72,346.48 L347.8,346.66 L347.87,346.83 L347.95,347 L348.02,347.16 L348.1,347.32 L348.17,347.47 L348.25,347.62 L348.32,347.77 L348.4,347.9 L348.47,348.04 L348.55,348.17 L348.62,348.29 L348.7,348.41 L348.78,348.52 Q349.78,349.7 352.38,349.7" stroke="#0d0d0d" stroke-width="1.15" fill="none" stroke-linejoin="round" stroke-linecap="round"/>
<line x1="18.5" y1="152.5" x2="18.5" y2="435.5" stroke="#3c3c3c" stroke-width="0.62" fill="none"/>
<line x1="712" y1="152.5" x2="712" y2="288" stroke="#3c3c3c" stroke-width="0.62" fill="none"/>
<line x1="578.4" y1="231.5" x2="578.4" y2="288" stroke="#3c3c3c" stroke-width="0.62" fill="none"/>
<line x1="350.5" y1="354" x2="350.5" y2="435.5" stroke="#3c3c3c" stroke-width="0.62" fill="none"/>
<line x1="18.5" y1="154.3" x2="712" y2="154.3" stroke="#3c3c3c" stroke-width="0.62" fill="none"/>
<polygon points="18.5,154.3 25.5,153.15 25.5,155.45" fill="#111"/>
<polygon points="712,154.3 705,155.45 705,153.15" fill="#111"/>
<text x="365.4" y="145.6" font-size="35" text-anchor="middle" textLength="57.5" lengthAdjust="spacingAndGlyphs">900</text>
<line x1="18.5" y1="233.5" x2="578.4" y2="233.5" stroke="#3c3c3c" stroke-width="0.62" fill="none"/>
<polygon points="18.5,233.5 25.5,232.35 25.5,234.65" fill="#111"/>
<polygon points="578.4,233.5 571.4,234.65 571.4,232.35" fill="#111"/>
<text x="298.75" y="224.7" font-size="35" text-anchor="middle" textLength="56.63" lengthAdjust="spacingAndGlyphs">720</text>
<line x1="18.5" y1="433.4" x2="350.5" y2="433.4" stroke="#3c3c3c" stroke-width="0.62" fill="none"/>
<polygon points="18.5,433.4 25.5,432.25 25.5,434.55" fill="#111"/>
<polygon points="350.5,433.4 343.5,434.55 343.5,432.25" fill="#111"/>
<text x="185" y="425.1" font-size="35" text-anchor="middle" textLength="56.63" lengthAdjust="spacingAndGlyphs">290</text>
<line x1="643.4" y1="231.5" x2="643.4" y2="302.7" stroke="#3c3c3c" stroke-width="0.62" fill="none"/>
<line x1="693" y1="231.5" x2="693" y2="302.7" stroke="#3c3c3c" stroke-width="0.62" fill="none"/>
<line x1="643.4" y1="233.5" x2="693" y2="233.5" stroke="#3c3c3c" stroke-width="0.62" fill="none"/>
<polygon points="643.4,233.5 650.4,232.35 650.4,234.65" fill="#111"/>
<polygon points="693,233.5 686,234.65 686,232.35" fill="#111"/>
<text x="668.2" y="224.7" font-size="35" text-anchor="middle" textLength="38.14" lengthAdjust="spacingAndGlyphs">50</text>
<line x1="583.4" y1="357.8" x2="583.4" y2="423.5" stroke="#3c3c3c" stroke-width="0.62" fill="none"/>
<line x1="668.2" y1="329" x2="668.2" y2="423.5" stroke="#3c3c3c" stroke-width="0.62" fill="none"/>
<line x1="583.4" y1="421.4" x2="668.2" y2="421.4" stroke="#3c3c3c" stroke-width="0.62" fill="none"/>
<polygon points="583.4,421.4 590.4,420.25 590.4,422.55" fill="#111"/>
<polygon points="668.2,421.4 661.2,422.55 661.2,420.25" fill="#111"/>
<text x="625.2" y="413.1" font-size="35" text-anchor="middle" textLength="37.17" lengthAdjust="spacingAndGlyphs">95</text>
<line x1="712" y1="288.6" x2="781" y2="288.6" stroke="#a8a8a8" stroke-width="0.9" fill="none"/>
<line x1="712" y1="357.7" x2="781" y2="357.7" stroke="#a8a8a8" stroke-width="0.9" fill="none"/>
<line x1="779.5" y1="288.6" x2="779.5" y2="357.7" stroke="#3c3c3c" stroke-width="0.62" fill="none"/>
<polygon points="779.5,288.6 780.65,295.6 778.35,295.6" fill="#111"/>
<polygon points="779.5,357.7 778.35,350.7 780.65,350.7" fill="#111"/>
<text x="771" y="322.8" font-size="35" text-anchor="middle" textLength="37.36" lengthAdjust="spacingAndGlyphs" transform="rotate(-90 771 322.8)">70</text>
<line x1="522.3" y1="277" x2="522.3" y2="369.5" stroke="#3c3c3c" stroke-width="0.62" fill="none"/>
<polygon points="522.3,289.4 521.15,282.4 523.45,282.4" fill="#111"/>
<polygon points="522.3,356.8 523.45,363.8 521.15,363.8" fill="#111"/>
<text x="513.3" y="301.9" font-size="35" text-anchor="middle" textLength="37.17" lengthAdjust="spacingAndGlyphs" transform="rotate(-90 513.3 301.9)">68</text>
<circle cx="499.75" cy="341.25" r="12.7" stroke="#3c3c3c" stroke-width="0.62" fill="none"/>
<line x1="481.9" y1="334.4" x2="517.75" y2="348.5" stroke="#3c3c3c" stroke-width="0.62" fill="none"/>
<path d="M694.7,350.3 L675.5,480.6 L562.6,480.6" stroke="#3c3c3c" stroke-width="0.62" fill="none"/>
<polygon points="694.7,350.3 694.74,356.38 692.77,356.07" fill="#111"/>
<rect x="565" y="455.5" width="15.8" height="15.1" stroke="#111" stroke-width="1" fill="none"/>
<text x="584.3" y="471.6" font-size="35" text-anchor="start">11x11</text>
<rect x="281.4" y="512.1" width="100.2" height="100.2" stroke="#c4c4c4" stroke-width="0.8" fill="none"/>
<path d="M281.4,512.1 L381.6,612.3 M381.6,512.1 L281.4,612.3" stroke="#c4c4c4" stroke-width="0.8" fill="none" stroke-dasharray="20 2 2 2"/>
<rect x="296.5" y="507.6" width="69.7" height="108.8" fill="#fff" fill-opacity="0" stroke="#0d0d0d" stroke-width="1.5" stroke-linejoin="round" stroke-linecap="round"/>
<line x1="296.5" y1="512.1" x2="366.2" y2="512.1" stroke="#0d0d0d" stroke-width="1.5" fill="none" stroke-linejoin="round" stroke-linecap="round"/>
<line x1="296.5" y1="612.3" x2="366.2" y2="612.3" stroke="#0d0d0d" stroke-width="1.5" fill="none" stroke-linejoin="round" stroke-linecap="round"/>
<circle cx="331.4" cy="562" r="8.7" stroke="#0d0d0d" stroke-width="1.5" fill="none" stroke-linejoin="round" stroke-linecap="round"/>
<line x1="319.9" y1="562" x2="342.9" y2="562" stroke="#3c3c3c" stroke-width="0.62" fill="none" stroke-dasharray="8 1.5 1.5 1.5"/>
<line x1="331.4" y1="550.5" x2="331.4" y2="573.5" stroke="#3c3c3c" stroke-width="0.62" fill="none" stroke-dasharray="8 1.5 1.5 1.5"/>
<line x1="226" y1="512.1" x2="281.4" y2="512.1" stroke="#3c3c3c" stroke-width="0.62" fill="none"/>
<line x1="226" y1="612.3" x2="281.4" y2="612.3" stroke="#3c3c3c" stroke-width="0.62" fill="none"/>
<line x1="228" y1="512.1" x2="228" y2="612.3" stroke="#3c3c3c" stroke-width="0.62" fill="none"/>
<polygon points="228,512.1 229.15,519.1 226.85,519.1" fill="#111"/>
<polygon points="228,612.3 226.85,605.3 229.15,605.3" fill="#111"/>
<text x="220.1" y="561.5" font-size="35" text-anchor="middle" textLength="56.92" lengthAdjust="spacingAndGlyphs" transform="rotate(-90 220.1 561.5)">100</text>
<line x1="366.2" y1="507.4" x2="439" y2="507.4" stroke="#3c3c3c" stroke-width="0.62" fill="none"/>
<line x1="366.2" y1="616.5" x2="439" y2="616.5" stroke="#3c3c3c" stroke-width="0.62" fill="none"/>
<line x1="436.8" y1="507.4" x2="436.8" y2="616.5" stroke="#3c3c3c" stroke-width="0.62" fill="none"/>
<polygon points="436.8,507.4 437.95,514.4 435.65,514.4" fill="#111"/>
<polygon points="436.8,616.5 435.65,609.5 437.95,609.5" fill="#111"/>
<text x="428.3" y="561.3" font-size="35" text-anchor="middle" textLength="56.04" lengthAdjust="spacingAndGlyphs" transform="rotate(-90 428.3 561.3)">110</text>
<path d="M477.4,528 L574,528 M477.4,595.4 L574,595.4" stroke="#0d0d0d" stroke-width="1.6" fill="none" stroke-linejoin="round" stroke-linecap="round"/>
<line x1="477.4" y1="521.6" x2="477.4" y2="602" stroke="#3c3c3c" stroke-width="0.62" fill="none" stroke-dasharray="2.5 1.5"/>
<line x1="473.6" y1="565.6" x2="481.6" y2="558.4" stroke="#3c3c3c" stroke-width="0.62" fill="none"/>
<line x1="457.6" y1="555" x2="457.6" y2="568.4" stroke="#3c3c3c" stroke-width="0.62" fill="none" stroke-dasharray="2.5 1.5"/>
<circle cx="457.6" cy="561.6" r="0.9" fill="#111"/>
<path d="M708.6,507.5 L574,507.5 L574,616 L708.6,616 L708.6,612 L583,612 L583,511.4 L708.6,511.4 Z" stroke="#0d0d0d" stroke-width="1.3" fill="none" stroke-linejoin="round" stroke-linecap="round"/>
<circle cx="558" cy="561.6" r="8.8" stroke="#0d0d0d" stroke-width="1.45" fill="none" stroke-linejoin="round" stroke-linecap="round"/>
<line x1="546" y1="561.6" x2="570" y2="561.6" stroke="#888" stroke-width="0.8" fill="none" stroke-dasharray="3 1.5"/>
<line x1="558" y1="549.6" x2="558" y2="573.6" stroke="#888" stroke-width="0.8" fill="none" stroke-dasharray="3 1.5"/>
<path d="M710.4,511.4 L710.4,554.8 L717,556.6 L707.4,559.4 L710.4,560.4 L710.4,612" stroke="#c4c4c4" stroke-width="0.8" fill="none"/>
<line x1="549.4" y1="561.6" x2="549.4" y2="685.5" stroke="#3c3c3c" stroke-width="0.62" fill="none"/>
<line x1="567.4" y1="561.6" x2="567.4" y2="685.5" stroke="#3c3c3c" stroke-width="0.62" fill="none"/>
<line x1="583.4" y1="616" x2="583.4" y2="685.5" stroke="#3c3c3c" stroke-width="0.62" fill="none"/>
<line x1="708.3" y1="616.5" x2="708.3" y2="685.5" stroke="#3c3c3c" stroke-width="0.62" fill="none"/>
<line x1="455.8" y1="683.3" x2="583.4" y2="683.3" stroke="#3c3c3c" stroke-width="0.62" fill="none"/>
<polygon points="549.4,683.3 542.4,684.45 542.4,682.15" fill="#111"/>
<polygon points="567.4,683.3 574.4,682.15 574.4,684.45" fill="#111"/>
<line x1="583.4" y1="683.3" x2="708.8" y2="683.3" stroke="#3c3c3c" stroke-width="0.62" fill="none"/>
<polygon points="583.4,683.3 590.4,682.15 590.4,684.45" fill="#111"/>
<polygon points="708.8,683.3 701.8,684.45 701.8,682.15" fill="#111"/>
<text x="645.6" y="673.3" font-size="35" text-anchor="middle" textLength="56.34" lengthAdjust="spacingAndGlyphs">135</text>
<text x="518.8" y="673.3" font-size="35" text-anchor="middle">18</text>
<circle cx="478.35" cy="659.75" r="13.1" stroke="#3c3c3c" stroke-width="0.62" fill="none"/>
<line x1="471" y1="678.1" x2="485.9" y2="641.9" stroke="#3c3c3c" stroke-width="0.62" fill="none"/>
<line x1="708.6" y1="507.4" x2="742" y2="507.4" stroke="#3c3c3c" stroke-width="0.62" fill="none"/>
<line x1="708.6" y1="511.4" x2="766" y2="511.4" stroke="#3c3c3c" stroke-width="0.62" fill="none"/>
<line x1="708.6" y1="612" x2="766" y2="612" stroke="#3c3c3c" stroke-width="0.62" fill="none"/>
<line x1="739.4" y1="462.4" x2="739.4" y2="523.6" stroke="#3c3c3c" stroke-width="0.62" fill="none"/>
<polygon points="739.4,507.4 738.25,500.4 740.55,500.4" fill="#111"/>
<polygon points="739.4,511.4 740.55,518.4 738.25,518.4" fill="#111"/>
<text x="731.1" y="471.75" font-size="35" text-anchor="middle" transform="rotate(-90 731.1 471.75)">4</text>
<line x1="763.6" y1="511.4" x2="763.6" y2="612" stroke="#3c3c3c" stroke-width="0.62" fill="none"/>
<polygon points="763.6,511.4 764.75,518.4 762.45,518.4" fill="#111"/>
<polygon points="763.6,612 762.45,605 764.75,605" fill="#111"/>
<text x="755.2" y="561.4" font-size="35" text-anchor="middle" textLength="56.92" lengthAdjust="spacingAndGlyphs" transform="rotate(-90 755.2 561.4)">100</text>
</svg>
</body>
</html>
